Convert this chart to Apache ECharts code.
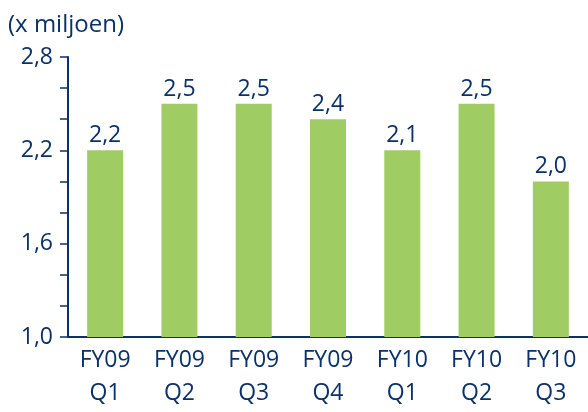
<!DOCTYPE html>
<html>
<head>
<meta charset="utf-8">
<script src="https://cdn.jsdelivr.net/npm/echarts@6/dist/echarts.min.js"></script>
<style>
  html, body { margin: 0; padding: 0; background: #fff; }
  #chart { width: 588px; height: 412px; }
</style>
</head>
<body>
<div id="chart"></div>
<script>
'use strict';

const categories = ['FY09\nQ1', 'FY09\nQ2', 'FY09\nQ3', 'FY09\nQ4', 'FY10\nQ1', 'FY10\nQ2', 'FY10\nQ3'];
const values = [2.2, 2.5, 2.5, 2.4, 2.2, 2.5, 2.0];
const valueLabels = ['2,2', '2,5', '2,5', '2,4', '2,1', '2,5', '2,0'];
const yTickLabels = { 1.0: '1,0', 1.6: '1,6', 2.2: '2,2', 2.8: '2,8' };

(function () {
    const navy = '#0a3168';
    const fontFamily = '"Open Sans", "Noto Sans", sans-serif';
    const chart = echarts.init(document.getElementById('chart'));

    chart.setOption({
        animation: false,
        textStyle: { fontFamily, color: navy },
        title: {
            text: '(x miljoen)',
            left: 3,
            top: 8,
            textStyle: { color: navy, fontSize: 24, fontWeight: 'normal', fontFamily }
        },
        grid: { left: 68, right: 0, top: 57, bottom: 75, containLabel: false },
        xAxis: {
            type: 'category',
            data: categories,
            axisLine: { lineStyle: { color: navy, width: 2 } },
            axisTick: { alignWithLabel: false, length: 7, lineStyle: { color: navy, width: 1.5 } },
            axisLabel: {
                color: navy, fontSize: 23, fontFamily, lineHeight: 33, margin: 7,
                interval: 0
            }
        },
        yAxis: {
            type: 'value',
            min: 1.0,
            max: 2.8,
            interval: 0.2,
            splitLine: { show: false },
            axisLine: { show: true, lineStyle: { color: navy, width: 2 } },
            axisTick: { show: true, length: 8, lineStyle: { color: navy, width: 1.5 } },
            axisLabel: {
                color: navy, fontSize: 23, fontFamily, margin: 15,
                formatter: v => {
                    const key = Math.round(v * 10) / 10;
                    return yTickLabels[key] !== undefined ? yTickLabels[key] : '';
                }
            }
        },
        series: [{
            type: 'bar',
            data: values,
            barWidth: 36,
            itemStyle: { color: '#a0cd63' },
            label: {
                show: true,
                position: 'top',
                distance: 3,
                color: navy,
                fontSize: 23,
                fontFamily,
                formatter: p => valueLabels[p.dataIndex]
            }
        }]
    });
})();
</script>
</body>
</html>
